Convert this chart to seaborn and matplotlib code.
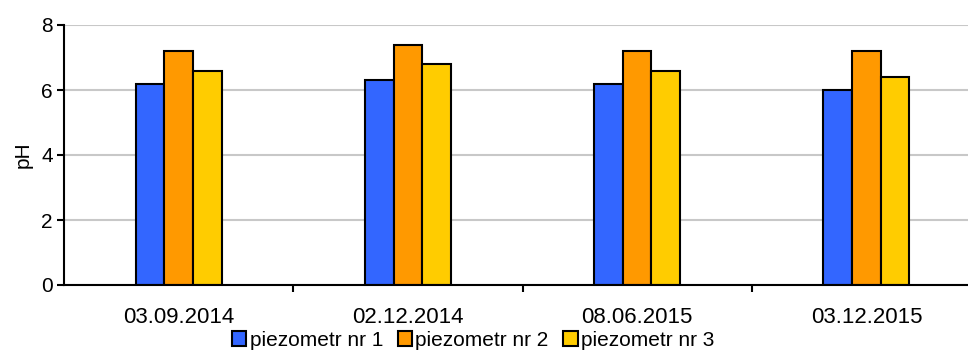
import matplotlib
matplotlib.use("Agg")
import matplotlib.pyplot as plt
import seaborn as sns
import pandas as pd
from matplotlib.ticker import FixedLocator

dates = ["03.09.2014", "02.12.2014", "08.06.2015", "03.12.2015"]
series = ["piezometr nr 1", "piezometr nr 2", "piezometr nr 3"]
p1 = [6.2, 6.3, 6.2, 6.0]
p2 = [7.2, 7.4, 7.2, 7.2]
p3 = [6.6, 6.8, 6.6, 6.4]
colors = ["#3366FF", "#FF9900", "#FFCC00"]

rows = []
for name, vals in zip(series, [p1, p2, p3]):
    for d, v in zip(dates, vals):
        rows.append({"date": d, "series": name, "pH": v})
df = pd.DataFrame(rows)

sns.set_theme(style="white")
plt.rcParams['font.family'] = ['Liberation Sans', 'DejaVu Sans']
plt.rcParams['text.color'] = 'black'
plt.rcParams['axes.labelcolor'] = 'black'
plt.rcParams['xtick.color'] = 'black'
plt.rcParams['ytick.color'] = 'black'

fig = plt.figure(figsize=(9.68, 3.54), dpi=100)
ax = fig.add_axes([64/968, 1-285/354, (981-64)/968, 260/354])

sns.barplot(data=df, x="date", y="pH", hue="series", palette=colors,
            width=0.375, edgecolor="black", linewidth=1.5, ax=ax,
            saturation=1, errorbar=None)

ax.set_ylim(0, 8)
ax.set_xlim(-0.5, 3.5)
ax.set_yticks([0, 2, 4, 6, 8])
ax.yaxis.grid(True, color="#c8c8c8", linewidth=1.5)
ax.set_axisbelow(True)
for s in ["top", "right"]:
    ax.spines[s].set_visible(False)
for s in ["left", "bottom"]:
    ax.spines[s].set_color("black")
    ax.spines[s].set_linewidth(1.5)

ax.tick_params(axis="y", which="major", length=5, width=1.5, color="black",
               direction="out", left=True, labelsize=15, pad=3, labelcolor="black")
ax.tick_params(axis="x", which="major", length=0, labelsize=16, pad=16, labelcolor="black")
ax.xaxis.set_minor_locator(FixedLocator([0.5, 1.5, 2.5, 3.5]))
ax.tick_params(axis="x", which="minor", length=5, width=1.5, color="black",
               direction="out", bottom=True)
ax.set_xlabel("")
ax.set_ylabel("pH", fontsize=15, labelpad=6, color="black")

ax.legend_.remove()
handles, labels = ax.get_legend_handles_labels()
fig.legend(handles, labels, loc="lower center", bbox_to_anchor=(473/968, -0.012),
           ncol=3, frameon=False, fontsize=15, handlelength=0.7, handleheight=0.7,
           handletextpad=0.15, columnspacing=0.7, borderaxespad=0, labelcolor="black")

fig.savefig("out.png", dpi=100)
